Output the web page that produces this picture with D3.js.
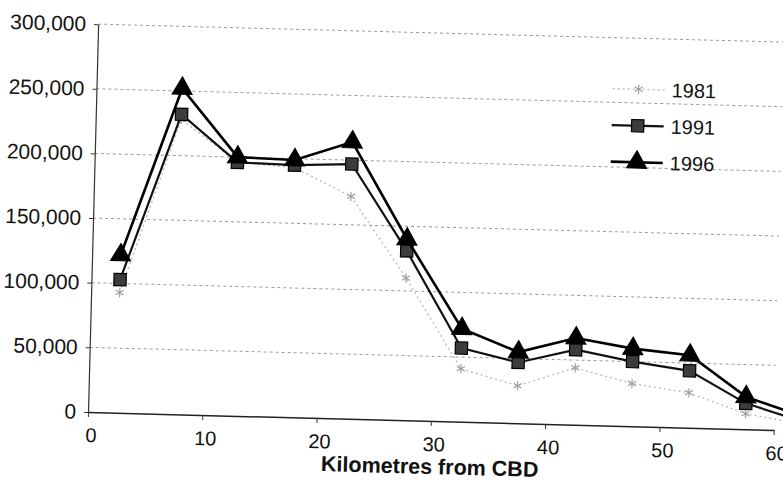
<!DOCTYPE html>
<html>
<head>
<meta charset="utf-8">
<script src="https://cdn.jsdelivr.net/npm/d3@7"></script>
<style>
  body { margin: 0; background: #fff; }
  svg { font-family: "Liberation Sans", Arial, sans-serif; }
</style>
</head>
<body>
<div id="chart"></div>
<script>
// distance bands (km from CBD, band mid-points) and population for each census year
const km = [2.5, 7.5, 12.5, 17.5, 22.5, 27.5, 32.5, 37.5, 42.5, 47.5, 52.5, 57.5, 62.5];
const pop1981 = [93000, 228000, 196000, 193000, 172000, 110000, 41000, 29000, 44000, 33000, 27000, 12000, 5000];
const pop1991 = [103000, 232000, 196000, 195000, 197000, 131000, 57000, 47000, 58000, 50000, 44000, 20000, 7000];
const pop1996 = [122000, 252000, 200000, 199000, 214000, 140000, 72000, 55000, 67000, 60000, 56000, 25000, 11000];
const years = ["1981", "1991", "1996"];
const xTicks = [0, 10, 20, 30, 40, 50, 60];
const yTicks = [0, 50000, 100000, 150000, 200000, 250000, 300000];

const width = 783, height = 486;
const plotW = 686, plotH = 388;

const svg = d3.select("#chart")
    .append("svg")
    .attr("width", width)
    .attr("height", height);

svg.append("rect").attr("width", width).attr("height", height).attr("fill", "#fff");

// the scanned page is slightly tilted, so the whole chart sits in a rotated group
const g = svg.append("g")
    .attr("transform", "translate(88,412) rotate(1.5)");

const x = d3.scaleLinear().domain([0, 60]).range([0, plotW]);
const y = d3.scaleLinear().domain([0, 300000]).range([0, -plotH]);

// gridlines
g.append("g")
    .selectAll("line")
    .data(yTicks.filter(d => d > 0))
    .join("line")
    .attr("x1", 0)
    .attr("x2", plotW)
    .attr("y1", d => y(d))
    .attr("y2", d => y(d))
    .attr("stroke", "#9a9a9a")
    .attr("stroke-width", 1)
    .attr("stroke-dasharray", "3,3");

// Y axis
const yAxis = g.append("g")
    .call(d3.axisLeft(y).tickValues(yTicks).tickFormat(d3.format(",")).tickSize(4).tickSizeOuter(0).tickPadding(8));
yAxis.select(".domain").attr("stroke", "#333").attr("stroke-width", 1.2);
yAxis.selectAll(".tick line").attr("stroke", "#333");
yAxis.selectAll("text").style("font-size", "21px").attr("fill", "#111");

// X axis
const xAxis = g.append("g")
    .call(d3.axisBottom(x).tickValues(xTicks).tickSize(5).tickSizeOuter(0).tickPadding(11));
xAxis.select(".domain").attr("stroke", "#222").attr("stroke-width", 1.5);
xAxis.selectAll(".tick line").attr("stroke", "#333");
xAxis.selectAll(".tick text").attr("dx", 3);
xAxis.selectAll("text").style("font-size", "20px").attr("fill", "#111");

// X axis title
g.append("text")
    .attr("x", plotW / 2)
    .attr("y", 53)
    .attr("text-anchor", "middle")
    .style("font-size", "21.5px")
    .style("font-weight", "bold")
    .attr("fill", "#111")
    .text("Kilometres from CBD");

const line = d3.line()
    .x(d => x(d[0]))
    .y(d => y(d[1]));

const series = [
    { name: years[0], values: pop1981, stroke: "#b8b8b8", width: 1.3, dash: "2,3", symbol: d3.symbolAsterisk, size: 60, fill: "none", mstroke: "#a0a0a0" },
    { name: years[1], values: pop1991, stroke: "#111", width: 2.2, dash: null, symbol: d3.symbolSquare, size: 150, fill: "#3c3c3c", mstroke: "#000" },
    { name: years[2], values: pop1996, stroke: "#000", width: 2.6, dash: null, symbol: d3.symbolTriangle, size: 170, fill: "#000", mstroke: "#000" }
];

series.forEach(s => {
    const pts = km.map((k, i) => [k, s.values[i]]);
    g.append("path")
        .datum(pts)
        .attr("fill", "none")
        .attr("stroke", s.stroke)
        .attr("stroke-width", s.width)
        .attr("stroke-dasharray", s.dash)
        .attr("d", line);
    g.append("g")
        .selectAll("path")
        .data(pts)
        .join("path")
        .attr("transform", d => `translate(${x(d[0])},${y(d[1])})`)
        .attr("d", d3.symbol().type(s.symbol).size(s.size))
        .attr("fill", s.fill)
        .attr("stroke", s.mstroke)
        .attr("stroke-width", 1.2);
});

// legend
const legend = g.append("g").attr("transform", "translate(516,-337)");
series.forEach((s, i) => {
    const row = legend.append("g").attr("transform", `translate(0,${i * 36.5})`);
    row.append("line")
        .attr("x1", 0).attr("x2", 52)
        .attr("stroke", s.stroke)
        .attr("stroke-width", s.width)
        .attr("stroke-dasharray", s.dash);
    row.append("path")
        .attr("transform", "translate(26,0)")
        .attr("d", d3.symbol().type(s.symbol).size(s.size))
        .attr("fill", s.fill)
        .attr("stroke", s.mstroke)
        .attr("stroke-width", 1.2);
    row.append("text")
        .attr("x", 59)
        .attr("dy", "0.35em")
        .style("font-size", "20px")
        .attr("fill", "#111")
        .text(s.name);
});
</script>
</body>
</html>
